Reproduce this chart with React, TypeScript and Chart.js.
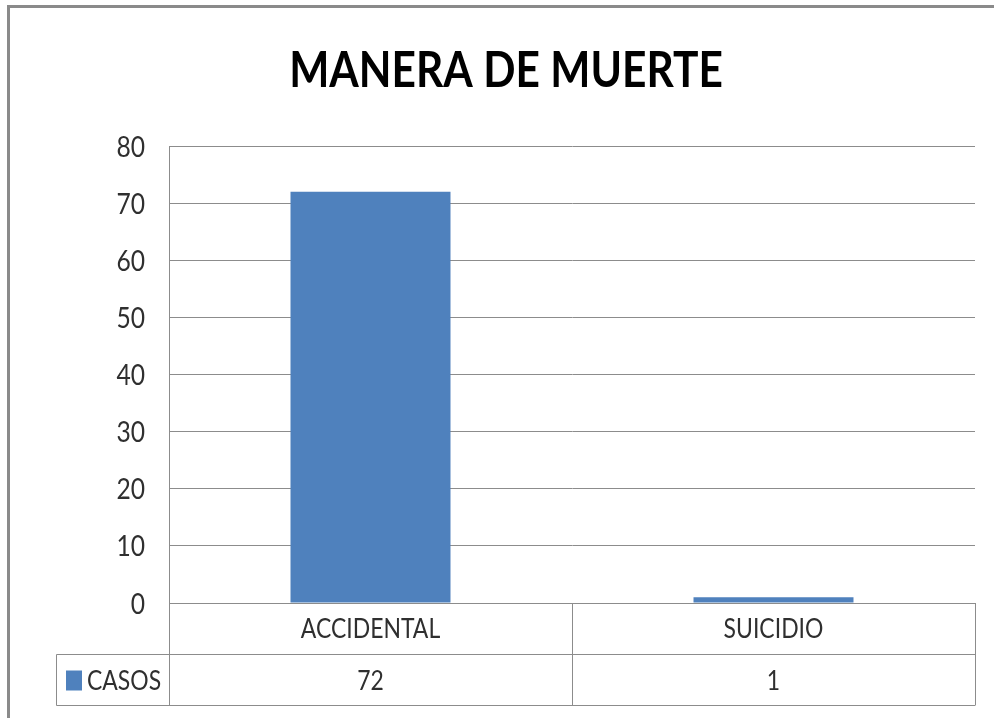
import React, { useEffect, useRef } from "react";
import { Chart, registerables } from "chart.js";

Chart.register(...registerables);

const TITLE = "MANERA DE MUERTE";
const CATEGORIES = ["ACCIDENTAL", "SUICIDIO"];
const SERIES_NAME = "CASOS";
const CASOS = [72, 1];
const Y_TICKS = [0, 10, 20, 30, 40, 50, 60, 70, 80];

const FONT = "Lato, 'Liberation Sans', Arial, sans-serif";
const NARROW = 0.85; // horizontal squeeze, like a narrow face
const BAR_COLOR = "#4F81BD";
const LINE_COLOR = "#8c8c8c";
const TEXT_COLOR = "#2f2f2f";
const LEGEND_CELL_WIDTH = 113;
const TITLE_CENTER_X = 506;
const TITLE_BASELINE_Y = 87;

function narrowText(
  ctx: CanvasRenderingContext2D,
  text: string,
  x: number,
  y: number,
  align: CanvasTextAlign,
  font: string,
  color: string
) {
  ctx.save();
  ctx.translate(x, y);
  ctx.scale(NARROW, 1);
  ctx.font = font;
  ctx.fillStyle = color;
  ctx.textAlign = align;
  ctx.textBaseline = "alphabetic";
  ctx.fillText(text, 0, 0);
  ctx.restore();
}

const framePlugin = {
  id: "frame",
  beforeDraw(chart: any) {
    const { ctx } = chart;
    ctx.save();
    ctx.fillStyle = "#ffffff";
    ctx.fillRect(0, 0, chart.width, chart.height);
    ctx.strokeStyle = "#8a8a8a";
    ctx.lineWidth = 3;
    ctx.beginPath();
    ctx.moveTo(8.5, chart.height + 5);
    ctx.lineTo(8.5, 6.5);
    ctx.lineTo(chart.width + 5, 6.5);
    ctx.stroke();
    ctx.restore();
  },
};

const textPlugin = {
  id: "texts",
  afterDraw(chart: any) {
    const { ctx, chartArea } = chart;
    const x = chart.scales.x;
    const y = chart.scales.y;
    const labels = chart.data.labels as string[];
    const ds = chart.data.datasets[0];
    const values = ds.data as number[];
    const n = labels.length;
    const top = chartArea.bottom;
    const bottom = x.bottom;
    const mid = (top + bottom) / 2;
    const cw = (x.right - x.left) / n;
    const legendLeft = x.left - LEGEND_CELL_WIDTH;
    const px = (v: number) => Math.round(v) + 0.5;

    // title
    narrowText(ctx, chart.options.plugins.customTitle.text, TITLE_CENTER_X, TITLE_BASELINE_Y,
      "center", `bold 50px ${FONT}`, "#000000");

    // y tick labels
    y.ticks.forEach((t: any) => {
      const py = y.getPixelForValue(t.value);
      narrowText(ctx, String(t.value), y.right - 24, py + 10.5, "right", `29px ${FONT}`, TEXT_COLOR);
    });

    // data table grid
    ctx.save();
    ctx.strokeStyle = LINE_COLOR;
    ctx.lineWidth = 1;
    ctx.beginPath();
    for (let i = 0; i <= n; i++) {
      const ex = px(x.left + i * cw);
      ctx.moveTo(ex, top);
      ctx.lineTo(ex, bottom);
    }
    ctx.moveTo(px(legendLeft), px(mid));
    ctx.lineTo(px(x.right), px(mid));
    ctx.moveTo(px(legendLeft), px(bottom));
    ctx.lineTo(px(x.right), px(bottom));
    ctx.moveTo(px(legendLeft), px(mid));
    ctx.lineTo(px(legendLeft), px(bottom));
    ctx.stroke();
    ctx.restore();

    const row1 = (top + mid) / 2;
    const row2 = (mid + bottom) / 2;
    labels.forEach((lab, i) => {
      narrowText(ctx, lab, x.getPixelForValue(i), row1 + 9, "center", `27px ${FONT}`, TEXT_COLOR);
    });
    values.forEach((v, i) => {
      narrowText(ctx, String(v), x.getPixelForValue(i), row2 + 10, "center", `27px ${FONT}`, TEXT_COLOR);
    });

    ctx.save();
    ctx.fillStyle = BAR_COLOR;
    ctx.fillRect(legendLeft + 10, row2 - 9, 16, 20);
    ctx.restore();
    narrowText(ctx, ds.label, legendLeft + 31, row2 + 10, "left", `27px ${FONT}`, TEXT_COLOR);
  },
};

export default function App() {
  const ref = useRef<HTMLCanvasElement | null>(null);

  useEffect(() => {
    document.body.style.margin = "0";
    if (!ref.current) return;
    const chart = new Chart(ref.current, {
      type: "bar",
      data: {
        labels: CATEGORIES,
        datasets: [
          {
            label: SERIES_NAME,
            data: CASOS,
            backgroundColor: BAR_COLOR,
            borderWidth: 0,
            categoryPercentage: 1,
            barPercentage: 0.397,
          },
        ],
      },
      options: {
        animation: false,
        responsive: false,
        maintainAspectRatio: false,
        layout: { padding: { left: 0, right: 19, top: 146, bottom: 13 } },
        plugins: {
          legend: { display: false },
          tooltip: { enabled: false },
          title: { display: false },
          customTitle: { text: TITLE },
        } as any,
        scales: {
          y: {
            min: Y_TICKS[0],
            max: Y_TICKS[Y_TICKS.length - 1],
            afterFit(scale: any) {
              scale.width = 169;
            },
            ticks: {
              stepSize: Y_TICKS[1] - Y_TICKS[0],
              display: false,
            },
            grid: { color: LINE_COLOR, lineWidth: 1, drawTicks: false },
            border: { display: true, color: LINE_COLOR, width: 1 },
          },
          x: {
            afterFit(scale: any) {
              scale.height = 102;
            },
            ticks: { display: false },
            grid: { display: false, drawTicks: false },
            border: { display: false },
          },
        },
      },
      plugins: [framePlugin, textPlugin],
    });
    return () => chart.destroy();
  }, []);

  return (
    <div style={{ width: 994, height: 718 }}>
      <canvas ref={ref} width={994} height={718} style={{ display: "block" }} />
    </div>
  );
}
